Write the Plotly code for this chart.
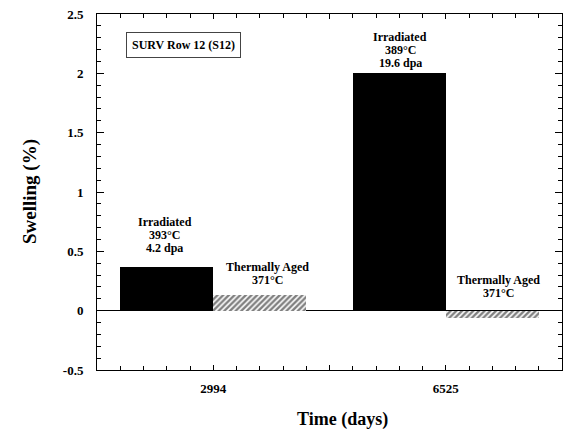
import plotly.graph_objects as go

# ---- data ----
categories = ["2994", "6525"]
irradiated = [0.37, 2.0]
thermally_aged = [0.13, -0.06]
irr_labels = [["Irradiated", "393°C", "4.2 dpa"], ["Irradiated", "389°C", "19.6 dpa"]]
aged_labels = [["Thermally Aged", "371°C"], ["Thermally Aged", "371°C"]]
y_tickvals = [-0.5, 0, 0.5, 1, 1.5, 2, 2.5]
y_ticktext = ["-0.5", "0", "0.5", "1", "1.5", "2", "2.5"]
box_label = "SURV Row 12 (S12)"
x_title = "Time (days)"
y_title = "Swelling (%)"

# ---- styling ----
FONT = "Times New Roman, Liberation Serif, serif"
LINE_STEP = 13
irr_offsets = [19, 10]      # px gap above bar top to last label line
irr_xshift = [-2, 1]
aged_offsets = [15, 18]
aged_xshift = [8, 6]

centers = [i * 10 + 5 for i in range(len(categories))]
irr_x = [c - 2 for c in centers]
aged_x = [c + 2 for c in centers]

fig = go.Figure()
fig.add_trace(go.Bar(x=irr_x, y=irradiated, width=4, marker=dict(color="black", line=dict(width=0)),
                     showlegend=False))
fig.add_trace(go.Bar(x=aged_x, y=thermally_aged, width=4,
                     marker=dict(color="white", line=dict(width=0),
                                 pattern=dict(shape="/", fgcolor="black", bgcolor="white",
                                              size=4, solidity=0.6, fillmode="overlay")),
                     showlegend=False))

def bold(s):
    return "<b>" + s + "</b>"

annotations = []

def add_lines(x, y, lines, offset, xshift):
    n = len(lines)
    for i, ln in enumerate(lines):
        annotations.append(dict(x=x, y=y, text=bold(ln), showarrow=False, yanchor="middle",
                                yshift=offset + (n - 1 - i) * LINE_STEP, xshift=xshift,
                                font=dict(family=FONT, size=12, color="black")))

for x, y, lines, off, xs in zip(irr_x, irradiated, irr_labels, irr_offsets, irr_xshift):
    add_lines(x, y, lines, off, xs)
for x, y, lines, off, xs in zip(aged_x, thermally_aged, aged_labels, aged_offsets, aged_xshift):
    add_lines(x, max(y, 0), lines, off, xs)

annotations.append(dict(x=0.185, y=0.913, xref="paper", yref="paper", xanchor="center", yanchor="middle",
                        text=bold(box_label), showarrow=False,
                        font=dict(family=FONT, size=12, color="black"),
                        bordercolor="#444", borderwidth=1, borderpad=5, bgcolor="white"))
annotations.append(dict(x=0.527, y=-0.138, xref="paper", yref="paper", xanchor="center", yanchor="middle",
                        text=bold(x_title), showarrow=False,
                        font=dict(family=FONT, size=18, color="black")))
annotations.append(dict(x=-0.144, y=0.5, xref="paper", yref="paper", xanchor="center", yanchor="middle",
                        text=bold(y_title), showarrow=False, textangle=-90,
                        font=dict(family=FONT, size=19, color="black")))

axis_font = dict(family=FONT, size=13, color="black")
fig.update_layout(
    width=565, height=432,
    margin=dict(l=97, r=3, t=14, b=62),
    plot_bgcolor="white", paper_bgcolor="white",
    bargap=0,
    annotations=annotations,
    xaxis=dict(range=[0, 20], tickvals=[5, 10, 15], ticktext=[bold(categories[0]), "", bold(categories[1])],
               ticks="inside", ticklen=5, tickcolor="black", showline=True, linecolor="black",
               linewidth=1, mirror="allticks", showgrid=False, zeroline=False,
               minor=dict(dtick=1, ticks="inside", ticklen=4, tickcolor="black", showgrid=False),
               tickfont=axis_font, ticklabelstandoff=6),
    yaxis=dict(range=[-0.5, 2.5], tickvals=y_tickvals, ticktext=[bold(t) for t in y_ticktext],
               ticks="inside", ticklen=7, tickcolor="black", showline=True, linecolor="black",
               linewidth=1, mirror="allticks", showgrid=False, zeroline=True, zerolinecolor="black",
               zerolinewidth=1,
               minor=dict(dtick=0.1, ticks="inside", ticklen=4, tickcolor="black", showgrid=False),
               tickfont=axis_font, ticklabelstandoff=10),
)

fig.write_html("out.html")
